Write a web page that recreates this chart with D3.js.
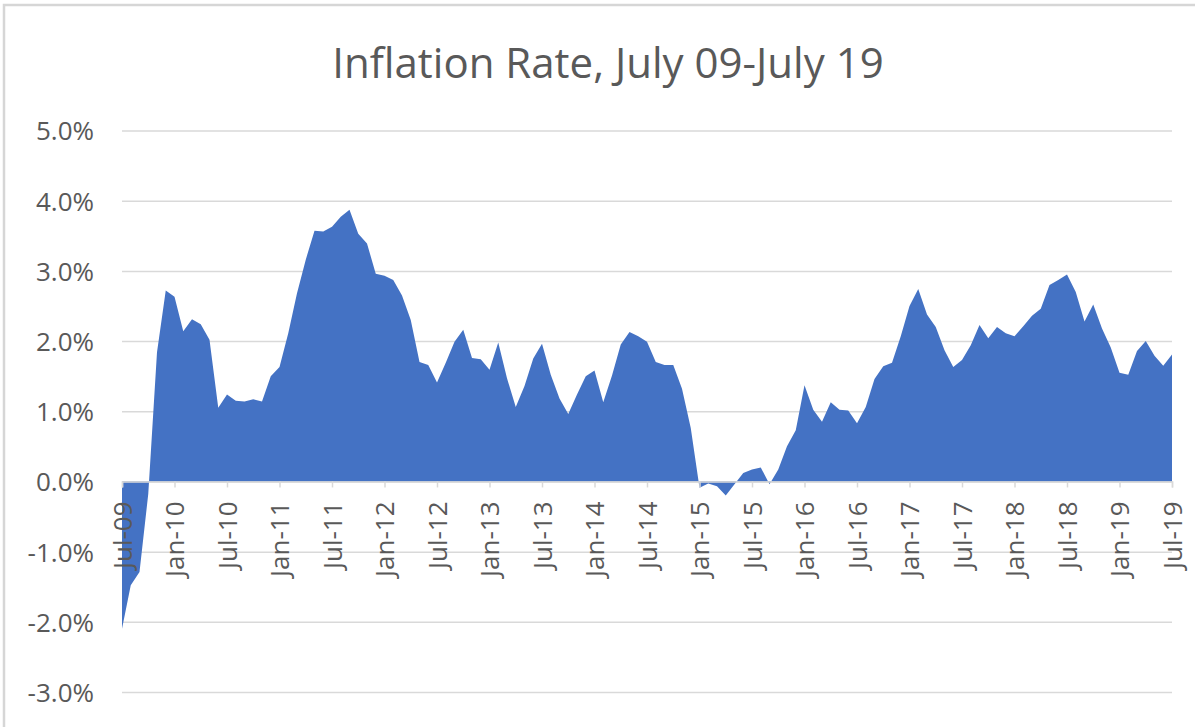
<!DOCTYPE html>
<html>
<head>
<meta charset="utf-8">
<script src="https://cdn.jsdelivr.net/npm/d3@7"></script>
<style>
  body { margin: 0; background: #fff; }
  .chart text { font-family: 'Open Sans', 'DejaVu Sans', sans-serif; fill: #595959; }
</style>
</head>
<body>
<div class="chart"><svg id="chart"></svg></div>
<script>
// Monthly CPI inflation, year over year (%), Jul 2009 - Jul 2019
const rate2009 = [-2.10, -1.48, -1.29, -0.18, 1.84, 2.72]; // Jul-Dec
const rate2010 = [2.63, 2.14, 2.31, 2.24, 2.02, 1.05, 1.24, 1.15, 1.14, 1.17, 1.14, 1.50];
const rate2011 = [1.63, 2.11, 2.68, 3.16, 3.57, 3.56, 3.63, 3.77, 3.87, 3.53, 3.39, 2.96];
const rate2012 = [2.93, 2.87, 2.65, 2.30, 1.70, 1.66, 1.41, 1.69, 1.99, 2.16, 1.76, 1.74];
const rate2013 = [1.59, 1.98, 1.47, 1.06, 1.36, 1.75, 1.96, 1.52, 1.18, 0.96, 1.24, 1.50];
const rate2014 = [1.58, 1.13, 1.51, 1.95, 2.13, 2.07, 1.99, 1.70, 1.66, 1.66, 1.32, 0.76];
const rate2015 = [-0.09, -0.03, -0.07, -0.20, -0.04, 0.12, 0.17, 0.20, -0.04, 0.17, 0.50, 0.73];
const rate2016 = [1.37, 1.02, 0.85, 1.13, 1.02, 1.01, 0.83, 1.06, 1.46, 1.64, 1.69, 2.07];
const rate2017 = [2.50, 2.74, 2.38, 2.20, 1.87, 1.63, 1.73, 1.94, 2.23, 2.04, 2.20, 2.11];
const rate2018 = [2.07, 2.21, 2.36, 2.46, 2.80, 2.87, 2.95, 2.70, 2.28, 2.52, 2.18, 1.91];
const rate2019 = [1.55, 1.52, 1.86, 2.00, 1.79, 1.65, 1.81]; // Jan-Jul

const tickLabels = ['Jul-09', 'Jan-10', 'Jul-10', 'Jan-11', 'Jul-11', 'Jan-12', 'Jul-12',
  'Jan-13', 'Jul-13', 'Jan-14', 'Jul-14', 'Jan-15', 'Jul-15', 'Jan-16', 'Jul-16',
  'Jan-17', 'Jul-17', 'Jan-18', 'Jul-18', 'Jan-19', 'Jul-19'];
const yTicks = [-3, -2, -1, 0, 1, 2, 3, 4, 5];
const title = 'Inflation Rate, July 09-July 19';

const values = [].concat(rate2009, rate2010, rate2011, rate2012, rate2013,
  rate2014, rate2015, rate2016, rate2017, rate2018, rate2019);

// Basic layout
const width = 1195;
const height = 727;
const plot = { left: 122, right: 1172, top: 130.5, bottom: 692 };

const svg = d3.select('#chart')
  .attr('width', width)
  .attr('height', height);

// Outer frame
svg.append('rect')
  .attr('x', 4)
  .attr('y', 5)
  .attr('width', width + 10)
  .attr('height', height + 10)
  .attr('fill', 'none')
  .attr('stroke', '#d6d6d6')
  .attr('stroke-width', 2.5);

// Title
svg.append('text')
  .attr('x', 608)
  .attr('y', 78)
  .attr('text-anchor', 'middle')
  .style('font-size', '42px')
  .text(title);

// Scales
const x = d3.scaleLinear()
  .domain([0, values.length - 1])
  .range([plot.left, plot.right]);

const y = d3.scaleLinear()
  .domain([-3, 5])
  .range([plot.bottom, plot.top]);

// plain hyphen for negatives, like the spreadsheet
const pct = (d) => `${d.toFixed(1)}%`;

// Y gridlines + labels
const yAxis = svg.append('g')
  .attr('transform', `translate(${plot.left},0)`)
  .call(d3.axisLeft(y)
    .tickValues(yTicks)
    .tickSize(-(plot.right - plot.left))
    .tickPadding(28)
    .tickFormat(pct));

yAxis.select('.domain').remove();
yAxis.selectAll('line')
  .attr('stroke', '#d9d9d9')
  .attr('stroke-width', 1.5);
yAxis.selectAll('text')
  .attr('dy', '0.36em')
  .style('font-size', '26px');

// Area, filled against the zero line
const area = d3.area()
  .x((d, i) => x(i))
  .y0(y(0))
  .y1((d) => y(d));

svg.append('path')
  .datum(values)
  .attr('fill', '#4472c4')
  .attr('d', area);

// X axis sitting on zero
const xAxis = svg.append('g')
  .attr('transform', `translate(0,${y(0)})`)
  .call(d3.axisBottom(x)
    .tickValues(d3.range(0, values.length, 6))
    .tickSize(6)
    .tickFormat((d) => tickLabels[d / 6]));

xAxis.select('.domain')
  .attr('stroke', '#d9d9d9')
  .attr('stroke-width', 1.5);
xAxis.selectAll('line')
  .attr('stroke', '#d9d9d9')
  .attr('stroke-width', 1.5);
xAxis.selectAll('text')
  .attr('transform', 'rotate(-90)')
  .attr('x', -20)
  .attr('y', 0)
  .attr('dy', '0.36em')
  .style('text-anchor', 'end')
  .style('font-size', '26px');
</script>
</body>
</html>
